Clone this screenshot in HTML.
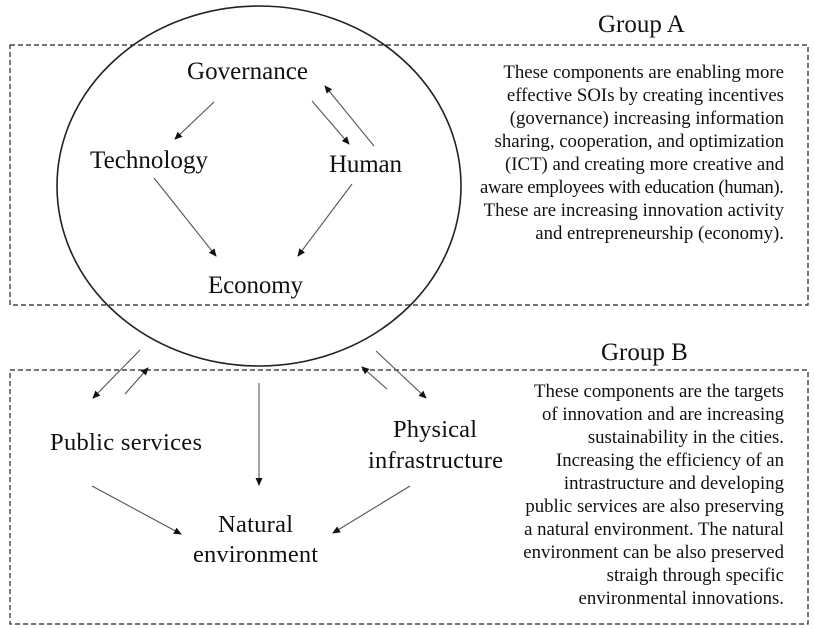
<!DOCTYPE html>
<html><head><style>
body{margin:0;background:#fff;width:815px;height:629px;overflow:hidden}
svg{display:block}
text{font-family:"Liberation Serif",serif;fill:#111}
.l{font-size:25px}
.m{font-size:24.5px}
.r{font-size:18.8px;text-anchor:end}
</style></head><body>
<svg width="815" height="629" viewBox="0 0 815 629">
<defs><marker id="a" markerWidth="8" markerHeight="8" refX="7" refY="4" orient="auto" markerUnits="userSpaceOnUse"><path d="M0,0.5 L8,4 L0,7.5z" fill="#111"/></marker></defs>
<rect x="10" y="45" width="798" height="260" fill="none" stroke="#222" stroke-width="1.2" stroke-dasharray="5,3"/>
<rect x="10" y="370" width="798" height="254" fill="none" stroke="#222" stroke-width="1.2" stroke-dasharray="5,3"/>
<ellipse cx="259" cy="186" rx="202" ry="180" fill="none" stroke="#222" stroke-width="1.6"/>
<text x="598" y="32" class="l">Group A</text>
<text x="601" y="360" class="l">Group B</text>
<text x="187" y="79" class="l" textLength="121">Governance</text>
<text x="90" y="168" class="l" textLength="118">Technology</text>
<text x="329" y="172" class="l" textLength="73">Human</text>
<text x="208" y="293" class="l" textLength="95">Economy</text>
<text x="50" y="450" class="m" textLength="152">Public services</text>
<text x="393" y="437" class="m" textLength="84">Physical</text>
<text x="368" y="468" class="m" textLength="135">infrastructure</text>
<text x="218" y="532" class="m" textLength="75">Natural</text>
<text x="193" y="562" class="m" textLength="125">environment</text>
<g stroke="#555" stroke-width="1.1" marker-end="url(#a)">
<line x1="214" y1="102" x2="175" y2="139"/>
<line x1="312" y1="101" x2="349" y2="144"/>
<line x1="374" y1="146" x2="325" y2="86"/>
<line x1="154" y1="178" x2="216" y2="256"/>
<line x1="352" y1="184" x2="298" y2="256"/>
<line x1="140" y1="350" x2="93" y2="398"/>
<line x1="125" y1="394" x2="148" y2="368"/>
<line x1="259" y1="383" x2="259" y2="485"/>
<line x1="387" y1="389" x2="362" y2="367"/>
<line x1="376" y1="351" x2="426" y2="398"/>
<line x1="92" y1="486" x2="181" y2="534"/>
<line x1="410" y1="486" x2="333" y2="533"/>
</g>
<text x="784" y="78" class="r">These components are enabling more</text>
<text x="784" y="101" class="r">effective SOIs by creating incentives</text>
<text x="784" y="124" class="r">(governance) increasing information</text>
<text x="784" y="147" class="r">sharing, cooperation, and optimization</text>
<text x="784" y="170" class="r">(ICT) and creating more creative and</text>
<text x="784" y="193" class="r" textLength="304">aware employees with education (human).</text>
<text x="784" y="216" class="r">These are increasing innovation activity</text>
<text x="784" y="239" class="r">and entrepreneurship (economy).</text>
<text x="784" y="397" class="r">These components are the targets</text>
<text x="784" y="420" class="r">of innovation and are increasing</text>
<text x="784" y="443" class="r">sustainability in the cities.</text>
<text x="784" y="466" class="r">Increasing the efficiency of an</text>
<text x="784" y="489" class="r">intrastructure and developing</text>
<text x="784" y="512" class="r">public services are also preserving</text>
<text x="784" y="535" class="r">a natural environment. The natural</text>
<text x="784" y="558" class="r">environment can be also preserved</text>
<text x="784" y="581" class="r">straigh through specific</text>
<text x="784" y="604" class="r">environmental innovations.</text>
</svg>
</body></html>
